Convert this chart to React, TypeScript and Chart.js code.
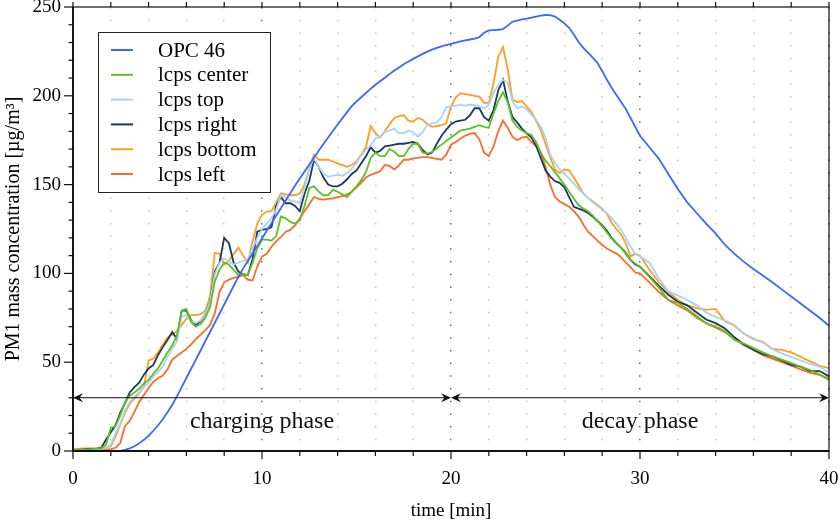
import React, { useEffect, useRef } from "react";
import { Chart, registerables } from "chart.js";

Chart.register(...registerables);

const FONT = '"Liberation Serif", "DejaVu Serif", "Times New Roman", serif';

// time axis [min]
const timeMin = [
  0, 0.25, 0.5, 0.75, 1, 1.25, 1.5, 1.75, 2, 2.25, 2.5, 2.75, 3, 3.25, 3.5, 3.75,
  4, 4.25, 4.5, 4.75, 5, 5.25, 5.5, 5.75, 6, 6.25, 6.5, 6.75, 7, 7.25, 7.5, 7.75,
  8, 8.25, 8.5, 8.75, 9, 9.25, 9.5, 9.75, 10, 10.25, 10.5, 10.75, 11, 11.25, 11.5, 11.75,
  12, 12.25, 12.5, 12.75, 13, 13.25, 13.5, 13.75, 14, 14.25, 14.5, 14.75, 15, 15.25, 15.5, 15.75,
  16, 16.25, 16.5, 16.75, 17, 17.25, 17.5, 17.75, 18, 18.25, 18.5, 18.75, 19, 19.25, 19.5, 19.75,
  20, 20.25, 20.5, 20.75, 21, 21.25, 21.5, 21.75, 22, 22.25, 22.5, 22.75, 23, 23.25, 23.5, 23.75,
  24, 24.25, 24.5, 24.75, 25, 25.25, 25.5, 25.75, 26, 26.25, 26.5, 26.75, 27, 27.25, 27.5, 27.75,
  28, 28.25, 28.5, 28.75, 29, 29.25, 29.5, 29.75, 30,
  30.5, 31, 31.5, 32, 32.5, 33, 33.5, 34, 34.5, 35, 35.5, 36, 36.5, 37, 37.5, 38, 38.5, 39, 39.5, 40,
];

const opc46 = [
  0, 0, 0, 0, 0, 0, 0, 0, 0, 0, 0.1, 0.6, 1.5, 2.7, 4.3, 6.3,
  8.6, 11.4, 14.5, 17.9, 21.8, 26.0, 30.8, 36.0, 41.1, 46.3, 51.5, 56.6, 61.8, 67.0, 72.2, 77.3,
  82.5, 87.7, 92.9, 98.0, 102.7, 107.0, 111.2, 115.5, 119.7, 124.0, 128.2, 132.5, 136.7, 141.0, 145.2, 149.5,
  153.5, 157.3, 161.2, 165.1, 169.0, 172.8, 176.5, 180.2, 183.8, 187.3, 190.8, 194.2, 196.8, 199.2, 201.6, 204.0,
  206.2, 208.2, 210.2, 212.2, 214.2, 216.0, 217.8, 219.3, 220.8, 222.2, 223.6, 224.9, 226.0, 227.0, 227.8, 228.6,
  229.3, 230.0, 230.6, 231.2, 231.7, 232.2, 233.0, 235.5, 236.8, 237.0, 237.2, 237.6, 239.5, 241.7, 242.3, 243.0,
  243.5, 244.0, 244.6, 245.2, 245.5, 245.4, 244.6, 242.8, 240.8, 238.3, 234.5, 230.3, 227.0, 224.3, 221.5, 218.5,
  214.0, 209.0, 204.5, 200.5, 196.5, 192.5, 187.5, 182.5, 177.5,
  171.0, 164.5, 156.0, 147.5, 140.0, 134.0, 128.0, 122.5, 116.0, 111.0, 106.5, 102.5, 98.8, 95.0, 91.0, 87.0, 83.0, 79.0, 75.0, 70.5,
];

const lcpsCenter = [
  0.5, 0.6, 0.7, 0.8, 1.0, 1.2, 1.5, 3.5, 13, 14, 20, 27.5, 31, 33, 35, 38,
  40, 43.5, 46.5, 51, 55.5, 59.5, 65, 79, 80, 72.5, 70, 71.5, 75, 81, 95.5, 102,
  106, 105, 102, 99, 99.5, 99, 106, 114, 119, 119, 118.5, 121, 132, 131, 129, 128,
  130, 138, 148, 149, 146, 144, 144, 147, 146, 144.5, 143, 146, 149, 152.5, 157, 165,
  168, 166, 166, 170, 168.5, 166, 166, 170, 173, 173, 168, 167.5, 168.5, 170.5, 172.5, 174.5,
  176.5, 178.5, 180.5, 181, 181.5, 182.5, 183.5, 182.5, 182, 190, 197, 202, 196.5, 186, 182.5, 180.5,
  179, 178, 174, 168, 163.5, 160.5, 157, 153.5, 150, 146, 142, 138.5, 136.5, 135, 132.5, 129.5,
  126.5, 123, 119.5, 117, 114.5, 111, 107.5, 105.5, 103.8,
  98, 92, 85, 83.5, 80, 76, 72, 70, 67.5, 62.5, 60.5, 58, 55.5, 53.3, 51.5, 49.5, 47.5, 45.5, 43, 40,
];

const lcpsTop = [
  0.4, 0.4, 0.5, 0.6, 0.8, 1.0, 1.2, 1.8, 3.5, 10, 15.5, 23, 27.5, 30.5, 33, 36,
  38.5, 42, 44.5, 47.5, 53, 57.5, 62, 75.5, 76.5, 73, 72, 73.5, 77.5, 84, 99.5, 106,
  108.5, 106.5, 105, 106, 107, 108, 114, 120, 125, 128, 131, 136, 144, 143, 141, 140.5,
  139.5, 148, 159, 165, 160, 156, 154.5, 155, 155.5, 155, 156.5, 159, 162, 166.5, 169.5, 172,
  176, 177, 179.5, 180.5, 181.5, 179, 179, 180.5, 179.5, 177, 179.5, 183.5, 184.5, 185, 188, 193.5,
  194, 194.5, 195, 194.5, 195, 194.8, 194, 193, 195, 201.5, 206, 209, 207.5, 197, 193, 194,
  192.5, 189.5, 186.5, 182.5, 176.5, 167, 162, 158.5, 156, 153.5, 150.5, 147.5, 145, 142.5, 140, 138,
  136, 134, 131, 128, 124.5, 120, 115, 111, 109.5,
  106, 97, 90, 87.5, 85, 82, 78, 75.5, 73.5, 71, 66, 63.5, 61, 57.5, 55, 53, 51, 49, 47.5, 44,
];

const lcpsRight = [
  0.5, 0.6, 0.8, 1.0, 1.2, 1.3, 1.8, 6.5, 10.5, 14.5, 21.5, 27, 33, 36, 38.5, 43,
  46.5, 48.5, 54, 58.5, 62.5, 67, 63, 79, 79, 73.5, 71, 73, 77.5, 84, 101, 106,
  120, 117, 106, 101, 99.5, 99, 108, 123.5, 124.5, 125, 126, 138, 143, 139.5, 139.5, 138,
  135, 145, 152, 164, 160, 154, 150, 149, 149, 150.5, 153, 156, 158, 162, 166, 171,
  168, 169, 171.5, 172, 172.5, 173, 173, 173.5, 174, 173, 169.5, 167, 168, 173, 177.5, 181,
  184, 185.5, 186, 186.5, 189, 193, 193, 188, 186, 192, 203, 209, 197, 188, 185, 181.5,
  179, 176.5, 172, 165, 158, 154.5, 152, 151, 148.5, 143, 137.5, 136.5, 135.5, 134, 132, 129.5,
  127, 124, 120, 117, 114.5, 111.5, 107.5, 105, 103.8,
  98.5, 93, 88, 84, 82, 78, 74, 72, 69, 64, 60, 57, 54.5, 53.3, 51, 48.5, 47.5, 45, 45, 42,
];

const lcpsBottom = [
  1.0, 1.2, 1.4, 1.5, 1.6, 1.5, 1.6, 2.0, 2.5, 8, 15, 21.5, 26.5, 29.5, 32.5, 36,
  51, 52, 55.5, 60, 64, 65.5, 67.5, 71, 74.5, 76.5, 76.5, 77, 79, 87, 111.5, 111,
  105, 107, 111, 114.5, 110, 106, 118, 128, 133, 134.8, 135, 140, 145, 144.5, 144, 144,
  145, 150, 159, 167, 164, 164, 164, 163, 162, 161, 160, 161, 163, 167, 171, 183,
  179, 176.5, 180, 184, 187.5, 188.5, 189, 186, 185.5, 187.5, 186.5, 184, 182.5, 183, 183.5, 184.5,
  194, 199, 201.5, 201, 200.5, 200, 199.5, 196, 196, 207, 222, 227.5, 215, 198, 196.5, 197,
  194, 191, 186, 180.5, 173, 165.5, 158.5, 156.5, 158.5, 158, 154, 149.5, 145, 142.5, 140.5, 138.5,
  136.5, 133.5, 128.5, 125, 122, 117, 109.5, 111, 110,
  102, 95, 89.5, 85, 82, 80.5, 79.5, 80, 73, 70.5, 66, 63, 61.5, 57.5, 57, 55.5, 53, 50.5, 48, 46.6,
];

const lcpsLeft = [
  0.3, 0.3, 0.4, 0.4, 0.5, 0.5, 0.6, 0.8, 1.0, 1.8, 4.5, 14, 17, 22, 27.5, 31.5,
  35.5, 39, 41, 42.5, 46, 51.5, 53.5, 55.5, 57.5, 60, 63, 65.5, 68, 71, 77.5, 89.5,
  95, 96.5, 97.5, 98, 99, 96.5, 96, 104, 109.5, 111, 115, 118, 120.5, 123.5, 124.5, 127,
  131, 135, 139, 143, 142, 141.5, 142, 142.3, 143, 143.5, 144.5, 146, 148.5, 151, 154, 155.5,
  156.5, 157.5, 161, 160.5, 158.5, 161, 164, 164, 164.8, 165, 165.5, 165.5, 165, 164.5, 164, 167,
  172.5, 174, 176, 177.5, 178.5, 179, 175.5, 168, 166, 171.5, 180, 186, 182, 177, 175, 176.5,
  177, 174, 171.5, 168, 160, 150, 143, 140.5, 139, 137.5, 135, 132, 127.5, 123.5, 121, 118.5,
  116, 114, 112.5, 111.3, 109, 106, 103.5, 100.5, 100,
  95, 89.5, 85, 82, 79.2, 75, 72, 69.5, 66.8, 63, 59.5, 56.9, 54, 52, 50, 48, 46, 44, 42.8, 40.9,
];

const seriesLabels = ["OPC 46", "lcps center", "lcps top", "lcps right", "lcps bottom", "lcps left"];
const seriesColors = ["#3d68f8", "#5cc01e", "#a8d3f6", "#1a3863", "#ff9d1e", "#ff6a28"];
const seriesValues = [opc46, lcpsCenter, lcpsTop, lcpsRight, lcpsBottom, lcpsLeft];

const phaseBounds = [0, 20, 40];
const phaseNames = ["charging phase", "decay phase"];
const phaseArrowValue = 30;
const phaseLabelValue = 16.5;

const xMin = 0, xMax = 40, xStep = 2, xMajor = 10;
const yMin = 0, yMax = 250, yStep = 10, yMajor = 50;

const isMajor = (v: number, m: number) => Math.abs(v / m - Math.round(v / m)) < 1e-9;

function arrowHead(ctx: CanvasRenderingContext2D, x: number, y: number, dir: number) {
  ctx.beginPath();
  ctx.moveTo(x, y);
  ctx.lineTo(x - dir * 10, y - 4.5);
  ctx.lineTo(x - dir * 6.5, y);
  ctx.lineTo(x - dir * 10, y + 4.5);
  ctx.closePath();
  ctx.fill();
}

const decorPlugin = {
  id: "decor",
  afterDatasetsDraw(chart: any) {
    const { ctx, chartArea: a, scales } = chart;
    const xs = scales.x;
    const ys = scales.y;
    ctx.save();
    ctx.setLineDash([]);
    ctx.strokeStyle = "#111";
    ctx.fillStyle = "#111";

    // frame
    ctx.lineWidth = 1.2;
    ctx.strokeRect(a.left, a.top, a.right - a.left, a.bottom - a.top);
    ctx.lineWidth = 1.8;
    ctx.beginPath();
    ctx.moveTo(a.left, a.top);
    ctx.lineTo(a.left, a.bottom);
    ctx.lineTo(a.right, a.bottom);
    ctx.stroke();

    // ticks
    ctx.lineWidth = 1.2;
    xs.ticks.forEach((t: any) => {
      const px = xs.getPixelForValue(t.value);
      const major = isMajor(t.value, xMajor);
      ctx.beginPath();
      ctx.moveTo(px, a.bottom);
      ctx.lineTo(px, a.bottom + (major ? 8 : 5));
      ctx.moveTo(px, a.top);
      ctx.lineTo(px, a.top - 5);
      ctx.stroke();
    });
    ys.ticks.forEach((t: any) => {
      const py = ys.getPixelForValue(t.value);
      const major = isMajor(t.value, yMajor);
      ctx.beginPath();
      ctx.moveTo(a.left, py);
      ctx.lineTo(a.left - (major ? 9 : 4.5), py);
      ctx.stroke();
    });

    // phase arrows
    const ay = ys.getPixelForValue(phaseArrowValue);
    ctx.lineWidth = 1;
    for (let i = 0; i < phaseNames.length; i++) {
      const x0 = xs.getPixelForValue(phaseBounds[i]);
      const x1 = xs.getPixelForValue(phaseBounds[i + 1]);
      ctx.beginPath();
      ctx.moveTo(x0 + 3, ay);
      ctx.lineTo(x1 - 3, ay);
      ctx.stroke();
      arrowHead(ctx, x0, ay, -1);
      arrowHead(ctx, x1, ay, 1);
      ctx.font = `24px ${FONT}`;
      ctx.textAlign = "center";
      ctx.textBaseline = "middle";
      ctx.fillText(
        phaseNames[i],
        xs.getPixelForValue((phaseBounds[i] + phaseBounds[i + 1]) / 2),
        ys.getPixelForValue(phaseLabelValue)
      );
    }

    // legend
    const L = a.left + 25;
    const T = a.top + 25;
    const W = 172;
    const H = 160;
    ctx.fillStyle = "#fff";
    ctx.fillRect(L, T, W, H);
    ctx.strokeStyle = "#222";
    ctx.lineWidth = 1;
    ctx.strokeRect(L + 0.5, T + 0.5, W, H);
    ctx.font = `21px ${FONT}`;
    ctx.textAlign = "left";
    ctx.textBaseline = "middle";
    chart.data.datasets.forEach((ds: any, i: number) => {
      const y = T + 18 + i * 24.8;
      ctx.strokeStyle = ds.borderColor;
      ctx.lineWidth = 2;
      ctx.beginPath();
      ctx.moveTo(L + 13, y);
      ctx.lineTo(L + 35, y);
      ctx.stroke();
      ctx.fillStyle = "#000";
      ctx.fillText(ds.label, L + 60, y + 1);
    });
    ctx.restore();
  },
};

export default function App() {
  const canvasRef = useRef<HTMLCanvasElement | null>(null);

  useEffect(() => {
    document.body.style.margin = "0";
    const canvas = canvasRef.current;
    if (!canvas) return;
    const datasets = seriesLabels.map((label, i) => ({
      label,
      data: timeMin.map((t, k) => ({ x: t, y: seriesValues[i][k] })),
      borderColor: seriesColors[i],
      backgroundColor: seriesColors[i],
      borderWidth: 1.8,
      pointRadius: 0,
      tension: 0,
      fill: false,
    }));

    const chart = new Chart(canvas, {
      type: "line",
      data: { datasets },
      plugins: [decorPlugin],
      options: {
        animation: false,
        responsive: true,
        maintainAspectRatio: false,
        layout: { padding: { left: 0, right: 11, top: 7, bottom: 0 } },
        plugins: { legend: { display: false }, tooltip: { enabled: false } },
        scales: {
          x: {
            type: "linear",
            min: xMin,
            max: xMax,
            ticks: {
              stepSize: xStep,
              autoSkip: false,
              maxRotation: 0,
              padding: 17,
              color: "#000",
              font: { family: FONT, size: 19 },
              callback: (v: any) => (isMajor(Number(v), xMajor) ? String(v) : ""),
            },
            grid: {
              display: true,
              drawOnChartArea: true,
              drawTicks: false,
              lineWidth: 1.5,
              color: (c: any) =>
                c.tick && isMajor(c.tick.value, xMajor) ? "#6a6a6a" : "#c8c8c8",
            },
            border: { display: false, dash: [1.5, 11.2] },
            title: {
              display: true,
              text: "time [min]",
              color: "#000",
              font: { family: FONT, size: 19 },
              padding: { top: 0, bottom: 0 },
            },
            afterFit: (s: any) => {
              s.height = 71;
              s.paddingLeft = 0;
              s.paddingRight = 0;
            },
          },
          y: {
            type: "linear",
            min: yMin,
            max: yMax,
            ticks: {
              stepSize: yStep,
              autoSkip: false,
              padding: 12,
              color: "#000",
              font: { family: FONT, size: 19 },
              callback: (v: any) => (isMajor(Number(v), yMajor) ? String(v) : ""),
            },
            grid: { display: false, drawTicks: false },
            border: { display: false },
            title: {
              display: true,
              text: "PM1 mass concentration [µg/m³]",
              color: "#000",
              font: { family: FONT, size: 20 },
              padding: { top: 2, bottom: 0 },
            },
            afterFit: (s: any) => {
              s.width = 73;
              s.paddingTop = 0;
              s.paddingBottom = 0;
            },
          },
        },
      },
    } as any);

    return () => chart.destroy();
  }, []);

  return (
    <div style={{ width: 840, height: 522, position: "relative", background: "#fff" }}>
      <canvas ref={canvasRef} />
    </div>
  );
}
